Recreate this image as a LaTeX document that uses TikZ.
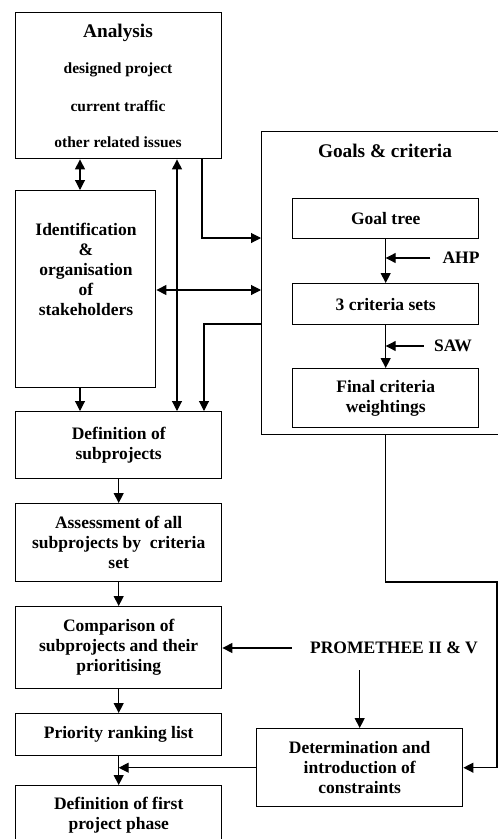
\documentclass[tikz,border=0pt]{standalone}
\usepackage{fontspec}
\setmainfont{Liberation Serif}
\usetikzlibrary{arrows.meta}
\begin{document}
\begin{tikzpicture}[x=1pt,y=-1pt,
  bodyfont/.style={font=\fontsize{17.5}{20}\selectfont\bfseries},
  titlefont/.style={font=\fontsize{19.3}{23}\selectfont\bfseries},
  subfont/.style={font=\fontsize{15.5}{18}\selectfont\bfseries},
  box/.style={draw, line width=1.4pt, anchor=north west, inner sep=0pt, align=center, bodyfont},
  txt/.style={align=center, inner sep=0pt, bodyfont},
  arr/.style={line width=1.1pt, -{Triangle[length=10pt,width=10pt]}},
  dbl/.style={line width=1.1pt, {Triangle[length=10pt,width=10pt]}-{Triangle[length=10pt,width=10pt]}}]
\useasboundingbox (0,0) rectangle (498,839);
% boxes
\node[box, minimum width=206pt, minimum height=146pt] (ana) at (15,12) {};
\node[box, minimum width=140pt, minimum height=197pt] (idn) at (15,190) {};
\node[box, minimum width=260pt, minimum height=303pt] (goals) at (261,131) {};
\node[box, minimum width=186pt, minimum height=40pt] (gt) at (292,198) {Goal tree};
\node[box, minimum width=186pt, minimum height=41pt] (cs) at (292,283) {3 criteria sets};
\node[box, minimum width=186pt, minimum height=59pt] (fw) at (292,368) {Final criteria\\weightings};
\node[box, minimum width=206pt, minimum height=67pt] (def1) at (15,411) {Definition of\\subprojects};
\node[box, minimum width=206pt, minimum height=78pt] (ass) at (15,503) {Assessment of all\\subprojects by\ \ criteria\\set};
\node[box, minimum width=206pt, minimum height=82pt] (cmp) at (15,606) {Comparison of\\subprojects and their\\prioritising};
\node[box, minimum width=206pt, minimum height=42pt] (pri) at (15,713) {Priority ranking list};
\node[box, minimum width=206pt, minimum height=59pt] (dff) at (15,785) {Definition of first\\project phase};
\node[box, minimum width=206pt, minimum height=78pt] (det) at (256,728) {Determination and\\introduction of\\constraints};
% texts
\node[txt, titlefont] (anat) at (118,33) {Analysis};
\node[txt, subfont] (ana1) at (118,70) {designed project};
\node[txt, subfont] (ana2) at (118,106) {current traffic};
\node[txt, subfont] (ana3) at (118,142) {other related issues};
\node[txt] (idnt) at (86,269) {Identification\\\&\\organisation\\of\\stakeholders};
\node[txt, titlefont] (goalt) at (385,151) {Goals \& criteria};
\node[txt] (ahp) at (461,258) {AHP};
\node[txt] (saw) at (453,346) {SAW};
\node[txt] (prom) at (394,648) {PROMETHEE II \& V};
% connectors
\draw[dbl] (ana.south -| 80,0) -- (idn.north -| 80,0);
\draw[dbl] (ana.south -| 177,0) -- (def1.north -| 177,0);
\draw[arr] (ana.south -| 202,0) |- (goals.west |- 0,238);
\draw[dbl] (idn.east |- 0,290) -- (goals.west |- 0,290);
\draw[arr] (goals.west |- 0,324) -| (def1.north -| 204,0);
\draw[arr] (idn.south -| 80,0) -- (def1.north -| 80,0);
\draw[arr] (gt) -- (cs);
\draw[arr] ([xshift=-12pt]ahp.west) -- (ahp.west -| gt.south);
\draw[arr] (cs) -- (fw);
\draw[arr] ([xshift=-10pt]saw.west) -- (saw.west -| cs.south);
\draw[arr] (def1) -- (ass);
\draw[arr] (ass) -- (cmp);
\draw[arr] ([xshift=-18pt]prom.west) -- (cmp.east |- prom.west);
\draw[arr] (det.north |- 0,670) -- (det.north);
\draw[arr] (cmp) -- (pri);
\draw[arr] (pri) -- (dff);
\draw[arr] (det.west) -- (pri.south |- det.west);
\coordinate (rc) at (497,582);
\draw[arr] (fw.south |- goals.south) |- (rc) |- (det.east);
\end{tikzpicture}
\end{document}
